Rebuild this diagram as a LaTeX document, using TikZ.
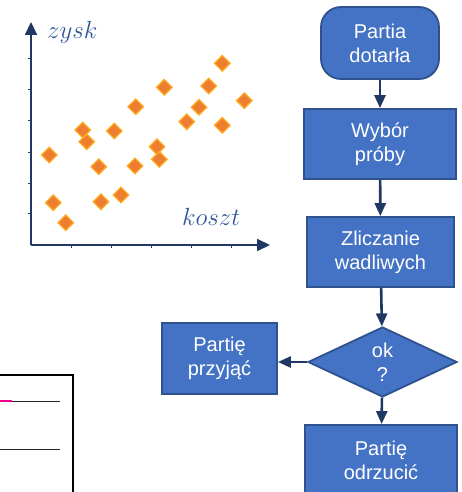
\documentclass[tikz,border=0pt]{standalone}
\usepackage{fontspec}
\setmainfont{Liberation Sans}
\usetikzlibrary{shapes.geometric,arrows.meta}
\definecolor{boxfill}{RGB}{68,114,196}
\definecolor{boxline}{RGB}{47,82,143}
\definecolor{arrowc}{RGB}{32,56,100}
\definecolor{axisc}{RGB}{31,56,100}
\definecolor{labc}{RGB}{47,85,151}
\definecolor{ptfill}{RGB}{237,125,49}
\definecolor{ptline}{RGB}{255,170,30}
\tikzset{
 flowbox/.style={draw=boxline, fill=boxfill, line width=1.8pt, text=white, align=center,
   font=\fontsize{20}{24}\selectfont, inner sep=0pt},
 startbox/.style={flowbox, rounded corners=20pt},
 decision/.style={flowbox, diamond, minimum width=149pt, minimum height=70pt},
 flowarrow/.style={draw=arrowc, line width=2.6pt, -{Triangle[length=13pt,width=11pt]}},
 pt/.style={diamond, fill=ptfill, draw=ptline, line width=1.3pt, minimum width=16pt,
   minimum height=16pt, inner sep=0pt},
 axis/.style={draw=axisc, line width=2pt, -{Triangle[length=13pt,width=12pt]}},
 tick/.style={draw=axisc, line width=0.8pt},
 axlabel/.style={text=labc, font=\fontsize{27}{30}\selectfont, inner sep=0pt},
}
\begin{document}
\begin{tikzpicture}[x=1pt,y=-1pt]
\path[use as bounding box] (0,0) rectangle (461,492);
\clip (0,0) rectangle (461,492);
\fill[white] (0,0) rectangle (461,492);

% scatter plot
\coordinate (o) at (31,245);
\coordinate (ytop) at (31,22);
\coordinate (xend) at (270,245);
\foreach \yy in {58,89,120,152,183,213}
  \draw[tick] (28,\yy) -- (31,\yy);
\foreach \xx in {71,111,151,191,231}
  \draw[tick] (\xx,245) -- (\xx,248);
\draw[axis] (o) -- (ytop);
\draw[axis] (o) -- (xend);
\node[axlabel, anchor=base west] (zysk) at (47,39) {$zysk$};
\node[axlabel, anchor=base west] (koszt) at (182,225) {$koszt$};

\foreach \px/\py [count=\i] in {49.3/155, 53.3/202.7, 65.7/222.7, 82.7/130, 86.7/141.7,
  98.7/166.7, 101/201.7, 114.3/131, 121/195, 135.7/106.7, 135/166, 157/146.7,
  159.3/159.3, 164.3/87.3, 186.7/121.7, 199/107.3, 208.7/86, 222.3/63.3,
  222.3/125.3, 244.3/100.7}
  \node[pt] (p\i) at (\px,\py) {};

% flowchart
\node[startbox, minimum width=118pt, minimum height=72pt] (start) at (380,43) {Partia\\dotarła};
\node[flowbox, minimum width=152pt, minimum height=70pt] (wybor) at (380,144) {Wybór\\próby};
\node[flowbox, minimum width=147pt, minimum height=70pt] (zlicz) at (380.5,252) {Zliczanie\\wadliwych};
\node[decision] (dec) at (382.5,362) {ok\\?};
\node[flowbox, minimum width=115pt, minimum height=71pt] (przyj) at (219.5,358.5) {Partię\\przyjąć};
\node[flowbox, minimum width=152pt, minimum height=70pt] (odrz) at (381,460) {Partię\\odrzucić};

\draw[flowarrow] (start) -- (wybor);
\draw[flowarrow] (wybor) -- (zlicz);
\draw[flowarrow] (zlicz) -- (dec);
\draw[flowarrow] (dec.west) -- (przyj.east |- dec.west);
\draw[flowarrow] (dec) -- (odrz);

% bottom-left fragment
\draw[line width=1.5pt] (-5,375) -- (73,375) -- (73,500);
\draw[line width=1pt, black!85] (0,401.7) -- (60,401.7);
\draw[line width=1.5pt, magenta] (0,401.2) -- (12,401.2);
\draw[line width=1pt, black!85] (0,449.3) -- (60,449.3);
\end{tikzpicture}
\end{document}
